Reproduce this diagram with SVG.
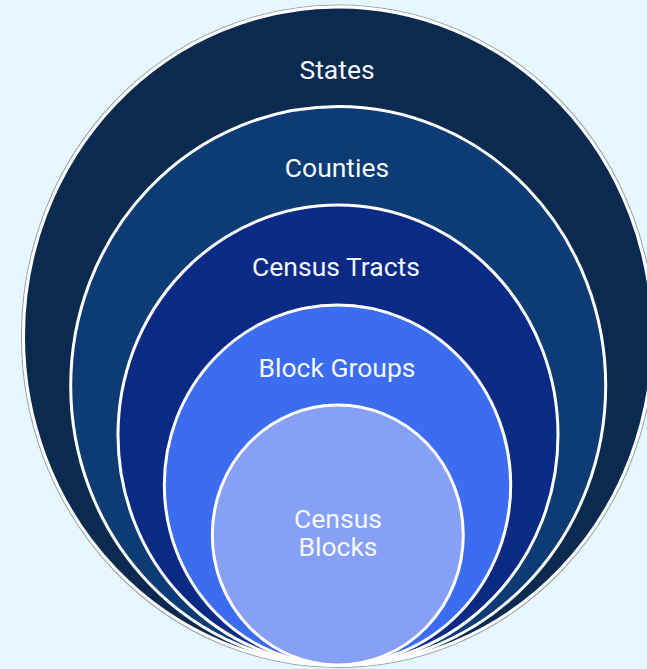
<svg xmlns="http://www.w3.org/2000/svg" width="647" height="669" viewBox="0 0 647 669">
  <style>
    .ring { stroke: #ffffff; stroke-width: 3; }
    .lbl { font-family: Roboto, "Liberation Sans", sans-serif; font-size: 26.5px; fill: #f4f7ff; text-anchor: middle; }
  </style>
  <rect x="0" y="0" width="647" height="669" fill="#e6f7ff"/>
  <g id="states">
    <ellipse cx="338" cy="336.25" rx="316.5" ry="331.25" fill="none" stroke="#9aa3ad" stroke-width="1.2"/>
    <ellipse class="ring" cx="338" cy="336.25" rx="314.5" ry="329.25" fill="#0b2a50"/>
    <text class="lbl" x="337" y="78.5">States</text>
  </g>
  <g id="counties">
    <ellipse class="ring" cx="338.2" cy="385.75" rx="267.5" ry="279.25" fill="#0d3b73"/>
    <text class="lbl" x="337" y="177">Counties</text>
  </g>
  <g id="census-tracts">
    <ellipse class="ring" cx="338" cy="435" rx="220" ry="230" fill="#0a2a85"/>
    <text class="lbl" x="336" y="275.5">Census Tracts</text>
  </g>
  <g id="block-groups">
    <ellipse class="ring" cx="337.5" cy="485" rx="173.2" ry="180" fill="#3c6cf0"/>
    <text class="lbl" x="337" y="377">Block Groups</text>
  </g>
  <g id="census-blocks">
    <ellipse class="ring" cx="337.8" cy="535" rx="125.5" ry="130" fill="#86a0f5"/>
    <text class="lbl" x="338" y="527.5">Census</text>
    <text class="lbl" x="338" y="556">Blocks</text>
  </g>
  <g id="connectors"/>
</svg>
